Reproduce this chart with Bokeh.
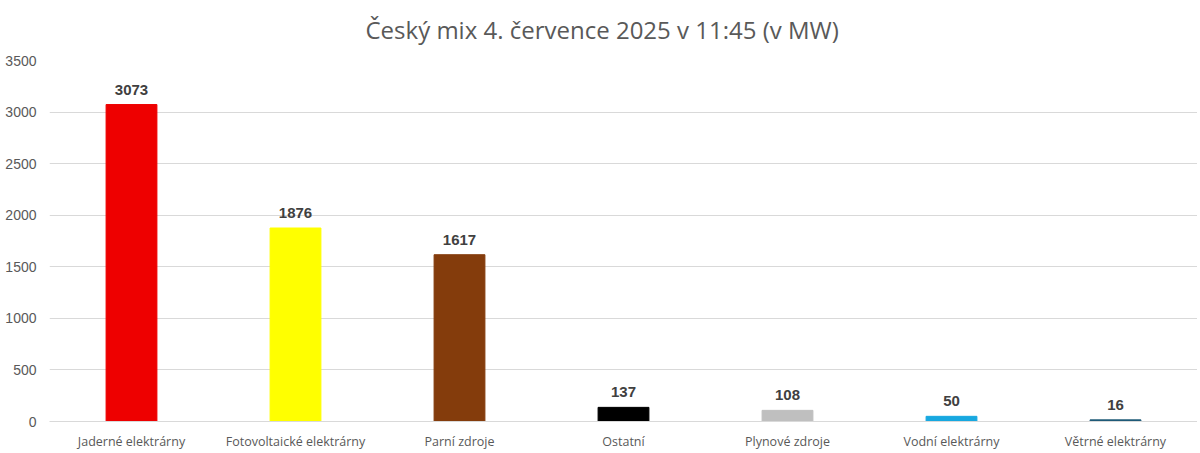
from bokeh.plotting import figure
from bokeh.models import ColumnDataSource, FixedTicker, LabelSet, Range1d
from bokeh.core.properties import value
from bokeh.embed import file_html
from bokeh.resources import INLINE

categories = ["Jaderné elektrárny", "Fotovoltaické elektrárny", "Parní zdroje", "Ostatní",
              "Plynové zdroje", "Vodní elektrárny", "Větrné elektrárny"]
values = [3073, 1876, 1617, 137, 108, 50, 16]
colors = ["#EE0000", "#FFFF00", "#843C0C", "#000000", "#BFBFBF", "#17A8E0", "#1F5A78"]
y_ticks = [0, 500, 1000, 1500, 2000, 2500, 3000, 3500]
title = "Český mix 4. července 2025 v 11:45 (v MW)"

src = ColumnDataSource(dict(cat=categories, val=values, col=colors,
                            lab=[str(v) for v in values]))

p = figure(x_range=categories, y_range=Range1d(0, 3500), width=1197, height=453,
           output_backend="svg", toolbar_location=None, title=title,
           min_border_left=49, min_border_right=0, min_border_bottom=32, min_border_top=0)
p.vbar(x="cat", top="val", width=0.31, color="col", source=src)
p.add_layout(LabelSet(x="cat", y="val", text="lab", source=src, text_align="center",
                      y_offset=10, text_font_size="15px", text_font_style="bold",
                      text_color="#404040", text_font=value("Liberation Sans")))

p.title.align = "left"
p.title.offset = 316
p.title.vertical_align = "top"
p.title.text_font = "Open Sans"
p.title.text_font_size = "24px"
p.title.text_font_style = "normal"
p.title.text_color = "#595959"
p.title.standoff = 25

p.outline_line_color = None
p.xgrid.grid_line_color = None
p.ygrid.grid_line_color = "#D9D9D9"
p.yaxis.ticker = FixedTicker(ticks=y_ticks)
p.yaxis.axis_line_color = None
p.yaxis.major_tick_line_color = None
p.yaxis.minor_tick_line_color = None
p.yaxis.major_tick_out = 0
p.yaxis.major_tick_in = 0
p.yaxis.major_label_text_font = "Liberation Sans"
p.yaxis.major_label_text_font_size = "14px"
p.yaxis.major_label_text_color = "#595959"
p.yaxis.major_label_standoff = 13
p.xaxis.axis_line_color = "#D9D9D9"
p.xaxis.major_tick_line_color = None
p.xaxis.major_tick_out = 0
p.xaxis.major_tick_in = 0
p.xaxis.major_label_text_font = "Open Sans"
p.xaxis.major_label_text_font_size = "12.5px"
p.xaxis.major_label_text_color = "#595959"
p.xaxis.major_label_standoff = 11

open("out.html", "w").write(file_html(p, INLINE))
